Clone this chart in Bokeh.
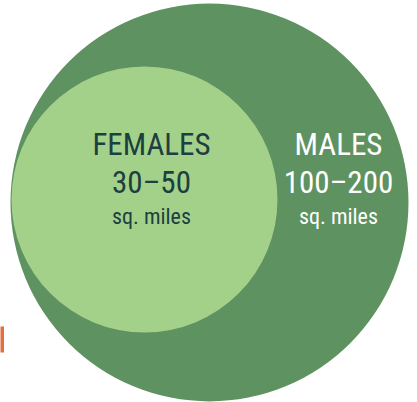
from bokeh.plotting import figure
from bokeh.models import Range1d
from bokeh.core.properties import value
from bokeh.embed import file_html
from bokeh.resources import INLINE

# Data
groups = ["FEMALES", "MALES"]
ranges = ["30–50", "100–200"]
units = ["sq. miles", "sq. miles"]

W, H = 417, 402
p = figure(width=W, height=H, output_backend="svg", toolbar_location=None,
           x_range=Range1d(0, W), y_range=Range1d(H, 0), min_border=0)
p.axis.visible = False
p.grid.visible = False
p.outline_line_color = None
p.background_fill_color = "white"
p.border_fill_color = "white"

# Circle layout (pixels in plot space)
big = dict(x=209, y=202, r=199)
small = dict(x=144, y=199, r=133)

p.circle(x=[big["x"]], y=[big["y"]], radius=big["r"], fill_color="#5E9260", line_color=None)
p.circle(x=[small["x"]], y=[small["y"]], radius=small["r"], fill_color="#A3D18A", line_color=None)

# cut-off orange element at left edge
p.quad(left=[-6], right=[3.5], top=[326], bottom=[352], fill_color="#E2703F", line_color=None)

label_x = [151, 338]
colors = ["#1C4040", "#FFFFFF"]
font = value("Roboto Condensed")
for i in range(2):
    p.text(x=[label_x[i]], y=[144], text=[groups[i]], text_font=font, text_font_size="31px",
           text_align="center", text_baseline="alphabetic", text_color=colors[i])
    p.text(x=[label_x[i]], y=[182], text=[ranges[i]], text_font=font, text_font_size="31px",
           text_align="center", text_baseline="alphabetic", text_color=colors[i])
    p.text(x=[label_x[i]], y=[215.5], text=[units[i]], text_font=font, text_font_size="22px",
           text_align="center", text_baseline="alphabetic", text_color=colors[i])

open("out.html", "w").write(file_html(p, INLINE))
